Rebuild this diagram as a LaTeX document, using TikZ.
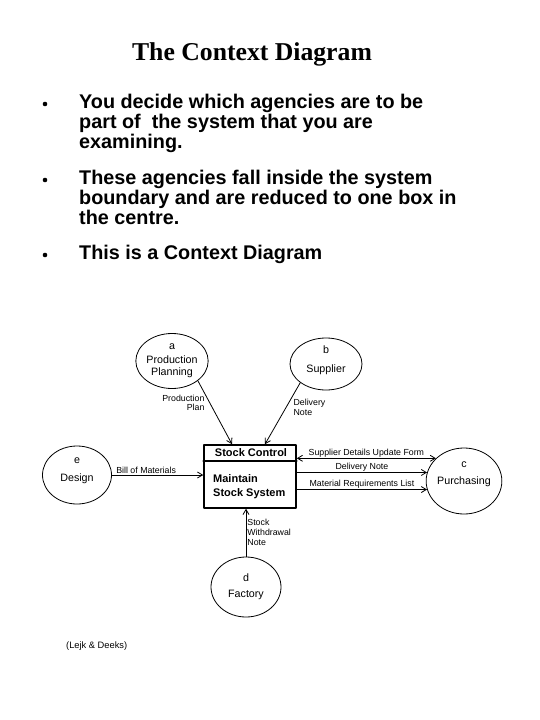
\documentclass[tikz,border=0pt]{standalone}
\usepackage{fontspec}
\setmainfont{Liberation Serif}
\setsansfont{Liberation Sans}
\usetikzlibrary{shapes.geometric,arrows.meta,positioning}

\tikzset{
  agency/.style={ellipse,draw,line width=0.8pt,inner sep=0pt,align=center,
    font=\sffamily\fontsize{10.7}{12}\selectfont},
  flowlbl/.style={font=\sffamily\fontsize{8.8}{9.5}\selectfont,inner sep=1pt},
  bulletline/.style={anchor=base west,inner sep=0pt,
    font=\sffamily\bfseries\fontsize{19.8}{20}\selectfont},
  flow/.style={->,line width=0.8pt},
}

\begin{document}
\begin{tikzpicture}[x=1pt,y=-1pt,line cap=round,line join=round,>={Straight Barb[length=5pt,width=6pt]}]
\useasboundingbox (0,0) rectangle (540,720);
% heading
\node[anchor=base,inner sep=0pt,font=\bfseries\fontsize{25.7}{28}\selectfont] (title) at (252,60) {The Context Diagram};
% bullets
\fill (45,104) circle (2.3pt);
\node[bulletline] (l1) at (79,108) {You decide which agencies are to be};
\node[bulletline] (l2) at (79,128) {part of\ \ the system that you are};
\node[bulletline] (l3) at (79,148) {examining.};
\fill (45,180) circle (2.3pt);
\node[bulletline] (l4) at (79,184) {These agencies fall inside the system};
\node[bulletline] (l5) at (79,204) {boundary and are reduced to one box in};
\node[bulletline] (l6) at (79,224) {the centre.};
\fill (45,255) circle (2.3pt);
\node[bulletline] (l7) at (79,259) {This is a Context Diagram};

% the system box
\node[draw,line width=1.6pt,minimum width=92pt,minimum height=63pt,inner sep=0pt] (msys) at (250,476.5) {};
\draw[line width=1.6pt] ([yshift=-17pt]msys.north west) -- ([yshift=-17pt]msys.north east);
\node[font=\sffamily\bfseries\fontsize{11}{13}\selectfont,inner sep=0pt] (sc) at (251,453) {Stock Control};
\node[font=\sffamily\bfseries\fontsize{11}{14}\selectfont,inner sep=0pt,align=left,anchor=west] (mss) at (213,487) {Maintain\\Stock System};

% external agencies
\node[agency,minimum width=72pt,minimum height=55pt] (a) at (172,361) {a\\[2pt]Production\\Planning};
\node[agency,minimum width=72pt,minimum height=52pt,text depth=9pt] (b) at (326,364) {b\\[7pt]Supplier};
\node[agency,minimum width=69pt,minimum height=58pt,text depth=11pt] (e) at (77,475) {e\\[6pt]Design};
\node[agency,minimum width=72pt,minimum height=66pt,text depth=15pt] (c) at (464,481) {c\\[5pt]Purchasing};
\node[agency,minimum width=70pt,minimum height=60pt] (d) at (246,587) {d\\[4pt]Factory};

% data flows
\draw[flow] (a.south east) -- ([xshift=-18pt]msys.north)
  node[flowlbl,pos=0.35,left=4pt,align=right] {Production\\Plan};
\draw[flow] (b.south west) -- ([xshift=15pt]msys.north)
  node[flowlbl,pos=0.4,right=6pt,align=left] {Delivery\\Note};
\draw[flow] (e.east) -- (e.east -| msys.west)
  node[flowlbl,pos=0,above right=0pt and 3pt] {Bill of Materials};
\draw[<->,line width=0.8pt] (c.141 -| msys.east) -- (c.141)
  node[flowlbl,midway,above] {Supplier Details Update Form};
\draw[flow] (c.167 -| msys.east) -- (c.167)
  node[flowlbl,midway,above] {Delivery Note};
\draw[flow] (c.193 -| msys.east) -- (c.193)
  node[flowlbl,midway,above] {Material Requirements List};
\draw[flow] (d.north) -- (d.north |- msys.south)
  node[flowlbl,midway,right,align=left,font=\sffamily\fontsize{8.8}{10}\selectfont] {Stock\\Withdrawal\\Note};

% source
\node[anchor=base west,inner sep=0pt,font=\sffamily\fontsize{9.3}{11}\selectfont] (src) at (66,648) {(Lejk \& Deeks)};
\end{tikzpicture}
\end{document}
